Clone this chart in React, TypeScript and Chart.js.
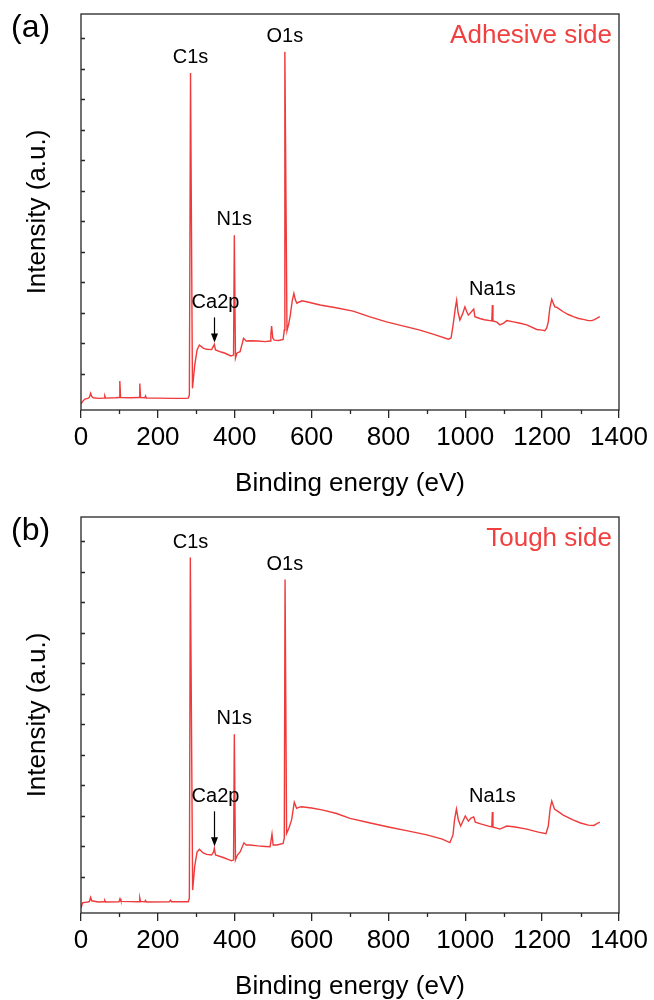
import React, { useEffect, useRef } from 'react';
import { Chart, registerables } from 'chart.js';

Chart.register(...registerables);

const FONT = '"Liberation Sans", Arial, Helvetica, sans-serif';
const RED = 'rgb(238,58,58)';
const AXIS = '#262626';

// ---- axis ticks ----
const X_TICKS = [0, 200, 400, 600, 800, 1000, 1200, 1400];
const X_MINOR = [100, 300, 500, 700, 900, 1100, 1300];
const Y_TICKS = [20000, 30000, 40000, 50000, 60000, 70000, 80000, 90000, 100000, 110000, 120000, 130000];
const Y_MIN = 8200;
const Y_MAX = 138000;

// ---- peak labels ----
const PEAK_NAMES = ['C1s', 'N1s', 'O1s', 'Na1s'];
const PEAK_ENERGIES = [285, 399, 530.5, 1070.5];
const CA_NAME = 'Ca2p';
const CA_ENERGY = 347;

// ---- (a) Adhesive side ----
const ENERGY_A = [0, 5, 10, 18, 22, 25, 28, 32, 45, 60, 62, 64, 90, 99, 101, 103, 130, 151, 153, 155, 166, 168, 170, 200, 240, 270, 279, 282, 285, 290, 296, 302, 308, 318, 327, 340, 345, 347, 350, 365, 375, 390, 397, 399, 402, 406, 414, 423, 430, 440, 460, 480, 492, 494, 496, 499, 503, 515, 526, 529, 530.5, 536, 540, 544, 550, 554, 558, 562, 568, 575, 590, 622, 660, 708, 750, 795, 840, 882, 920, 956, 963, 969, 974, 977.5, 981, 986, 993, 999, 1004, 1008, 1016, 1022, 1025, 1038, 1050, 1064, 1069, 1070.5, 1072, 1082, 1090, 1100, 1108, 1125, 1140, 1160, 1186, 1200, 1207, 1212, 1216, 1220, 1225, 1230, 1233, 1238, 1242, 1255, 1268, 1281, 1295, 1307, 1320, 1329, 1336, 1342, 1350];
const COUNTS_A = [10200, 11100, 11800, 12000, 12400, 13700, 12600, 12200, 12000, 12100, 12800, 12100, 12200, 12300, 17700, 12300, 12200, 12300, 16900, 12300, 12200, 12800, 12100, 12100, 12000, 12000, 12100, 13100, 118700, 15300, 22900, 27900, 29500, 28500, 28100, 28000, 29200, 29700, 27900, 27200, 26800, 25900, 26200, 65500, 25200, 26900, 27300, 31700, 30800, 30900, 30800, 30600, 30800, 32800, 35700, 31800, 31100, 31000, 31300, 34400, 125600, 34200, 36100, 38800, 44200, 46400, 44200, 43200, 43600, 44000, 43600, 42600, 41800, 40600, 38800, 37100, 35700, 34400, 32900, 31400, 31800, 36700, 41600, 44200, 40300, 37700, 39700, 42000, 40300, 39300, 40400, 41300, 38800, 38200, 37800, 37500, 37400, 42600, 37400, 37000, 36100, 36700, 37500, 37100, 36700, 36100, 34600, 34400, 34200, 35100, 37100, 41600, 44500, 42900, 42000, 41900, 41500, 40400, 39500, 38800, 38200, 37900, 37500, 37500, 37800, 38200, 38800];

// ---- (b) Tough side ----
const ENERGY_B = [0, 4, 10, 18, 22, 25, 28, 45, 60, 62, 64, 99, 101.5, 104, 151, 153, 155, 166, 168, 170, 230, 233, 236, 279, 282, 284.5, 290.5, 296, 302, 308, 318, 327, 340, 345, 347, 350, 370, 392, 397, 399, 402, 407, 414, 424, 430, 440, 460, 480, 492, 497, 500, 510, 526, 529, 531, 535, 541, 548, 555, 561, 568, 574, 600, 630, 665, 700, 750, 800, 850, 900, 940, 960, 968, 972, 977, 982, 988, 1000, 1008, 1015, 1022, 1026, 1040, 1060, 1069, 1070.5, 1072, 1090, 1108, 1130, 1160, 1190, 1210, 1216, 1221, 1225, 1232, 1240, 1255, 1280, 1300, 1320, 1335, 1345, 1350];
const COUNTS_B = [9800, 11500, 11700, 11800, 12000, 13300, 12200, 11800, 11900, 12300, 11800, 11900, 12900, 12000, 11900, 13100, 12000, 11900, 12300, 11800, 11900, 12400, 11900, 11900, 13100, 124700, 15700, 23600, 28200, 29100, 27900, 27400, 27200, 28200, 29400, 27200, 26400, 25300, 25600, 66800, 25600, 27200, 28200, 31200, 30500, 30500, 30200, 30000, 29900, 34100, 30500, 30500, 31000, 32800, 117500, 34300, 36000, 38700, 44500, 42500, 42900, 43000, 42600, 41900, 40800, 39200, 37800, 36400, 35100, 33800, 32400, 31300, 33800, 38700, 42300, 38700, 36700, 40000, 38300, 39300, 39700, 38000, 37400, 36700, 36400, 41300, 36400, 35700, 36700, 36400, 35700, 34700, 34200, 36700, 42600, 44900, 42300, 41600, 40300, 38700, 37700, 37000, 36900, 37700, 38000];

type Panel = {
  tag: string;
  side: string;
  energy: number[];
  counts: number[];
  caArrow: number;
};

const PANELS: Panel[] = [
  { tag: '(a)', side: 'Adhesive side', energy: ENERGY_A, counts: COUNTS_A, caArrow: 25 },
  { tag: '(b)', side: 'Tough side', energy: ENERGY_B, counts: COUNTS_B, caArrow: 35 },
];

function peakNear(energy: number[], counts: number[], e: number): number {
  let best = -Infinity;
  for (let i = 0; i < energy.length; i++) {
    if (Math.abs(energy[i] - e) <= 1.6 && counts[i] > best) best = counts[i];
  }
  return best;
}

function makeChart(canvas: HTMLCanvasElement, p: Panel): Chart {
  const points = p.energy.map((e, i) => ({ x: e, y: p.counts[i] }));
  const annot = {
    id: 'annot',
    afterDraw(chart: any) {
      const { ctx, chartArea, scales } = chart;
      const { left, right, top, bottom } = chartArea;
      const x = scales.x;
      const y = scales.y;
      ctx.save();
      ctx.strokeStyle = AXIS;
      ctx.lineWidth = 1.3;
      ctx.strokeRect(left, top, right - left, bottom - top);
      ctx.beginPath();
      X_MINOR.forEach((v) => {
        const px = Math.round(x.getPixelForValue(v)) + 0.5;
        ctx.moveTo(px, bottom);
        ctx.lineTo(px, bottom + 4);
      });
      Y_TICKS.forEach((v) => {
        const py = Math.round(y.getPixelForValue(v)) + 0.5;
        ctx.moveTo(left, py);
        ctx.lineTo(left + 4, py);
      });
      ctx.stroke();

      // peak labels
      ctx.fillStyle = '#000';
      ctx.font = `20px ${FONT}`;
      ctx.textAlign = 'center';
      ctx.textBaseline = 'alphabetic';
      PEAK_NAMES.forEach((name, i) => {
        const e = PEAK_ENERGIES[i];
        const v = peakNear(p.energy, p.counts, e);
        ctx.fillText(name, x.getPixelForValue(e), y.getPixelForValue(v) - 10);
      });
      // Ca2p with arrow
      const cv = peakNear(p.energy, p.counts, CA_ENERGY);
      const cx = Math.round(x.getPixelForValue(CA_ENERGY)) + 0.5;
      const tipY = y.getPixelForValue(cv) - 2;
      const startY = tipY - p.caArrow;
      ctx.beginPath();
      ctx.lineWidth = 1.2;
      ctx.strokeStyle = '#000';
      ctx.moveTo(cx, startY);
      ctx.lineTo(cx, tipY - 7);
      ctx.stroke();
      ctx.beginPath();
      ctx.moveTo(cx - 3.5, tipY - 9);
      ctx.lineTo(cx + 3.5, tipY - 9);
      ctx.lineTo(cx, tipY);
      ctx.closePath();
      ctx.fill();
      ctx.fillText(CA_NAME, cx + 1, startY - 9.5);

      // panel tag and side label
      ctx.textAlign = 'left';
      ctx.font = `32px ${FONT}`;
      ctx.fillText(p.tag, 11, 36.5);
      ctx.textAlign = 'right';
      ctx.fillStyle = 'rgb(240,64,64)';
      ctx.font = `26px ${FONT}`;
      ctx.fillText(p.side, right - 7, top + 29.3);
      ctx.restore();
    },
  };

  return new Chart(canvas, {
    type: 'line',
    data: {
      datasets: [
        {
          data: points,
          borderColor: RED,
          borderWidth: 1.4,
          pointRadius: 0,
          tension: 0,
          fill: false,
        },
      ],
    },
    options: {
      animation: false,
      responsive: false,
      devicePixelRatio: 1,
      layout: { padding: { top: 14, right: 35, left: 0, bottom: 0 } },
      plugins: { legend: { display: false }, tooltip: { enabled: false } },
      scales: {
        x: {
          type: 'linear',
          min: 0,
          max: 1400,
          afterBuildTicks: (s: any) => {
            s.ticks = X_TICKS.map((v) => ({ value: v }));
          },
          afterFit: (s: any) => {
            s.height = 93;
          },
          ticks: {
            autoSkip: false,
            maxRotation: 0,
            color: '#000',
            padding: 4,
            font: { family: FONT, size: 26 },
            callback: (v: any) => String(v),
          },
          grid: {
            display: true,
            drawOnChartArea: false,
            drawTicks: true,
            tickLength: 8,
            color: AXIS,
            lineWidth: 1.3,
          },
          border: { display: false },
          title: {
            display: true,
            text: 'Binding energy (eV)',
            color: '#000',
            font: { family: FONT, size: 26 },
            padding: { top: 0, bottom: 4 },
          },
        },
        y: {
          type: 'linear',
          min: Y_MIN,
          max: Y_MAX,
          afterBuildTicks: (s: any) => {
            s.ticks = Y_TICKS.map((v) => ({ value: v }));
          },
          afterFit: (s: any) => {
            s.width = 81;
          },
          ticks: { display: false },
          grid: { display: false },
          border: { display: false },
          title: {
            display: true,
            text: 'Intensity (a.u.)',
            color: '#000',
            font: { family: FONT, size: 26 },
            padding: { top: 22, bottom: 0 },
          },
        },
      },
    },
    plugins: [annot],
  } as any);
}

export default function App() {
  const refA = useRef<HTMLCanvasElement | null>(null);
  const refB = useRef<HTMLCanvasElement | null>(null);

  useEffect(() => {
    const charts: Chart[] = [];
    if (refA.current) charts.push(makeChart(refA.current, PANELS[0]));
    if (refB.current) charts.push(makeChart(refB.current, PANELS[1]));
    return () => charts.forEach((c) => c.destroy());
  }, []);

  return (
    <div
      style={{
        position: 'absolute',
        left: 0,
        top: 0,
        width: 654,
        height: 1000,
        overflow: 'hidden',
        background: '#fff',
      }}
    >
      <canvas
        ref={refA}
        width={654}
        height={503}
        style={{ position: 'absolute', left: 0, top: 0, width: 654, height: 503 }}
      />
      <canvas
        ref={refB}
        width={654}
        height={503}
        style={{ position: 'absolute', left: 0, top: 503, width: 654, height: 503 }}
      />
    </div>
  );
}
